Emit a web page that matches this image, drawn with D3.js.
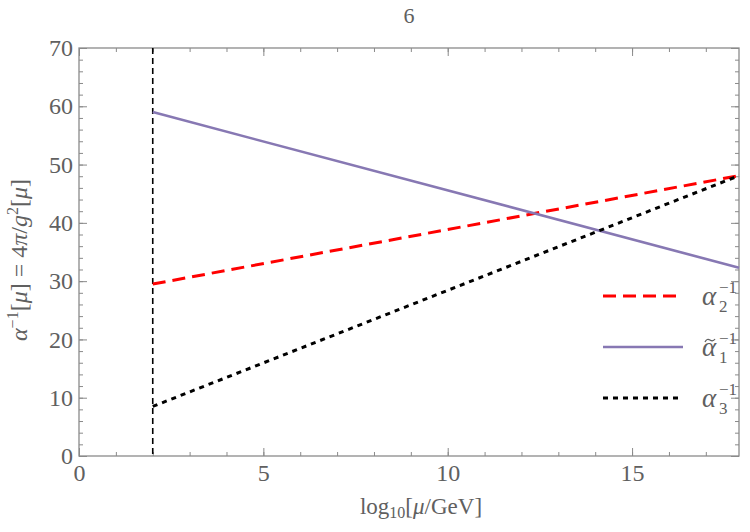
<!DOCTYPE html>
<html lang="en">
<head>
<meta charset="UTF-8">
<title>Gauge coupling running</title>
<script src="https://d3js.org/d3.v7.min.js"></script>
<style>
  body { margin: 0; background: #fff; }
  svg text { font-family: "Liberation Serif", "DejaVu Serif", serif !important; fill: #606060; }
</style>
</head>
<body>
<div id="chart"></div>
<script>
// data (log10 mu, alpha^-1)
const muStart = 2;
const muEnd = 17.9;
const alpha2 = [[2, 29.5], [17.9, 48.1]];
const alpha1 = [[2, 59.0], [17.9, 32.3]];
const alpha3 = [[2, 8.5], [17.9, 48.1]];
const xTicks = [0, 5, 10, 15];
const yTicks = [0, 10, 20, 30, 40, 50, 60, 70];

const W = 750, H = 532;
const margin = {top: 48, right: 11, bottom: 76, left: 79};
const width = W - margin.left - margin.right,
      height = H - margin.top - margin.bottom;

const svg = d3.select("#chart").append("svg")
    .attr("width", W).attr("height", H);
const g = svg.append("g").attr("transform", `translate(${margin.left},${margin.top})`);

const x = d3.scaleLinear().domain([0, muEnd]).range([0, width]);
const y = d3.scaleLinear().domain([0, 70]).range([height, 0]);

const axisColor = "#8a8a8a";

// frame ticks on all four sides, pointing inward
function ticks(axis, scale, major, minor, labels, pad) {
  const a = axis(scale).tickValues(minor).tickSizeInner(-4).tickSizeOuter(0).tickFormat("");
  const b = axis(scale).tickValues(major).tickSizeInner(-8).tickSizeOuter(0)
      .tickFormat(labels ? d3.format("d") : "").tickPadding(pad);
  return [a, b];
}
const xMinor = d3.range(0, 18, 1), yMinor = d3.range(0, 71, 2);

function styleAxis(sel) {
  sel.attr("font-family", null);
  sel.select(".domain").remove();
  sel.selectAll("line").attr("stroke", axisColor);
  sel.selectAll("text").attr("font-size", 24);
}

ticks(d3.axisBottom, x, xTicks, xMinor, true, 8).forEach(ax =>
  g.append("g").attr("transform", `translate(0,${height})`).call(ax).call(styleAxis));
ticks(d3.axisTop, x, xTicks, xMinor, false, 0).forEach(ax =>
  g.append("g").call(ax).call(styleAxis));
ticks(d3.axisLeft, y, yTicks, yMinor, true, 6).forEach(ax =>
  g.append("g").call(ax).call(styleAxis));
ticks(d3.axisRight, y, yTicks, yMinor, false, 0).forEach(ax =>
  g.append("g").attr("transform", `translate(${width},0)`).call(ax).call(styleAxis));

// frame
g.append("rect").attr("width", width).attr("height", height)
  .attr("fill", "none").attr("stroke", axisColor).attr("stroke-width", 1.3);

// vertical dashed line at mu = 10^2 GeV
g.append("line")
  .attr("x1", x(muStart)).attr("x2", x(muStart))
  .attr("y1", y(70)).attr("y2", y(0))
  .attr("stroke", "black").attr("stroke-width", 1.6).attr("stroke-dasharray", "6,4");

const line = d3.line().x(d => x(d[0])).y(d => y(d[1]));
const series = [
  {data: alpha2, color: "#ff0000", width: 3, dash: "13,7", sub: "2", tilde: false},
  {data: alpha1, color: "#8778b3", width: 2.6, dash: null, sub: "1", tilde: true},
  {data: alpha3, color: "#000000", width: 3, dash: "5,5", sub: "3", tilde: false}
];
g.selectAll(".curve").data(series).enter().append("path")
  .attr("class", "curve")
  .attr("d", d => line(d.data))
  .attr("fill", "none")
  .attr("stroke", d => d.color)
  .attr("stroke-width", d => d.width)
  .attr("stroke-dasharray", d => d.dash);

// legend
const legend = svg.append("g").attr("transform", "translate(603,296)");
series.forEach((s, i) => {
  const row = legend.append("g").attr("transform", `translate(0,${i * 51})`);
  row.append("line").attr("x1", 0).attr("x2", 80).attr("y1", 0).attr("y2", 0)
    .attr("stroke", s.color).attr("stroke-width", s.width).attr("stroke-dasharray", s.dash);
  row.append("text").attr("x", 99).attr("y", 9).attr("font-size", 27)
    .attr("font-style", "italic").text("α");
  if (s.tilde) {
    // tilde accent over alpha
    row.append("path")
      .attr("d", "M102,-5 q2,-4 5,-2 t5,-1")
      .attr("fill", "none").attr("stroke", "#606060").attr("stroke-width", 1.3);
  }
  row.append("text").attr("x", 116).attr("y", 16).attr("font-size", 17).text(s.sub);
  row.append("text").attr("x", 116).attr("y", -3).attr("font-size", 17).text("−1");
});

// title
svg.append("text").attr("x", margin.left + width / 2).attr("y", 23)
  .attr("text-anchor", "middle").attr("font-size", 22).text("6");

// x label
const xl = svg.append("text").attr("x", 421).attr("y", 514)
  .attr("text-anchor", "middle").attr("font-size", 23);
xl.append("tspan").text("log");
xl.append("tspan").attr("font-size", 16).attr("dy", 4).text("10");
xl.append("tspan").attr("dy", -4).text("[");
xl.append("tspan").attr("font-style", "italic").text("μ");
xl.append("tspan").text("/GeV]");

// y label
const yl = svg.append("text")
  .attr("transform", `translate(27,${margin.top + height / 2 + 8}) rotate(-90)`)
  .attr("text-anchor", "middle").attr("font-size", 24);
yl.append("tspan").attr("font-style", "italic").text("α");
yl.append("tspan").attr("font-size", 16).attr("dy", -9).text("−1");
yl.append("tspan").attr("dy", 9).text("[");
yl.append("tspan").attr("font-style", "italic").text("μ");
yl.append("tspan").text("] = 4");
yl.append("tspan").attr("font-style", "italic").text("π");
yl.append("tspan").text("/");
yl.append("tspan").attr("font-style", "italic").text("g");
yl.append("tspan").attr("font-size", 16).attr("dy", -9).text("2");
yl.append("tspan").attr("dy", 9).text("[");
yl.append("tspan").attr("font-style", "italic").text("μ");
yl.append("tspan").text("]");
</script>
</body>
</html>
